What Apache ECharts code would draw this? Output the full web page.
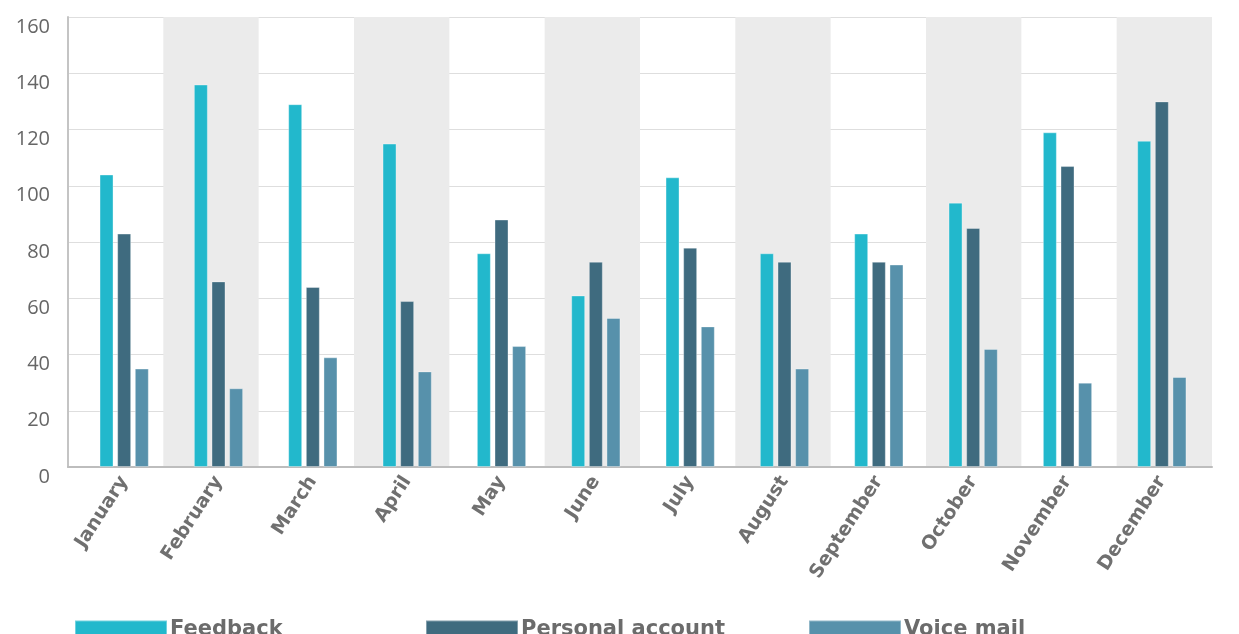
<!DOCTYPE html>
<html>
<head>
<meta charset="utf-8">
<script src="https://cdn.jsdelivr.net/npm/echarts@6/dist/echarts.min.js"></script>
<style>
  html, body { margin: 0; padding: 0; background: #fff; }
  #chart { width: 1239px; height: 634px; }
</style>
</head>
<body>
<div id="chart"></div>
<script>
  // data
  var months = ['January', 'February', 'March', 'April', 'May', 'June',
                'July', 'August', 'September', 'October', 'November', 'December'];
  var feedback = [104, 136, 129, 115, 76, 61, 103, 76, 83, 94, 119, 116];
  var personalAccount = [83, 66, 64, 59, 88, 73, 78, 73, 73, 85, 107, 130];
  var voiceMail = [35, 28, 39, 34, 43, 53, 50, 35, 72, 42, 30, 32];
  var seriesNames = ['Feedback', 'Personal account', 'Voice mail'];
  var colors = ['#22b8cc', '#3f6b7f', '#5791ab'];

  var chart = echarts.init(document.getElementById('chart'));

  var legendText = {
    fontFamily: 'DejaVu Sans',
    fontWeight: 'bold',
    fontSize: 21,
    color: '#6b6b6b',
    padding: [0, 0, 0, -2]
  };
  function makeLegend(name, left) {
    return {
      data: [name],
      left: left,
      top: 619,
      padding: 0,
      itemWidth: 92,
      itemHeight: 18,
      itemGap: 0,
      icon: 'rect',
      textStyle: legendText
    };
  }

  function makeSeries(name, data, idx) {
    return {
      name: name,
      type: 'bar',
      xAxisIndex: 1,
      yAxisIndex: 1,
      data: data,
      barWidth: 14,
      barGap: '26%',
      itemStyle: {
        color: colors[idx],
        borderColor: 'rgba(255,255,255,0.35)',
        borderWidth: 1
      }
    };
  }

  var option = {
    animation: false,
    color: colors,
    // grid 0: shaded month bands + y axis; grid 1: the bars (slightly narrower, as in the source)
    grid: [
      { left: 68, right: 27, top: 17, bottom: 167 },
      { left: 77, right: 30, top: 17, bottom: 167 }
    ],
    legend: [
      makeLegend(seriesNames[0], 74),
      makeLegend(seriesNames[1], 425),
      makeLegend(seriesNames[2], 808)
    ],
    xAxis: [
      {
        type: 'category',
        gridIndex: 0,
        data: months,
        axisLine: { show: true, lineStyle: { color: '#bdbdbd', width: 2 } },
        axisTick: { show: false },
        axisLabel: { show: false },
        splitArea: { show: true, areaStyle: { color: ['rgba(0,0,0,0)', '#ebebeb'] } }
      },
      {
        type: 'category',
        gridIndex: 1,
        data: months,
        axisLine: { show: false },
        axisTick: { show: false },
        axisLabel: {
          rotate: 57,
          margin: 11,
          interval: 0,
          fontFamily: 'DejaVu Sans',
          fontWeight: 'bold',
          fontSize: 19,
          color: '#707070'
        }
      }
    ],
    yAxis: [
      {
        type: 'value',
        gridIndex: 0,
        min: 0,
        max: 160,
        interval: 20,
        axisLine: { show: true, lineStyle: { color: '#c4c4c4', width: 2 } },
        axisTick: { show: false },
        splitLine: { lineStyle: { color: '#dedede', width: 1 } },
        axisLabel: {
          margin: 18,
          verticalAlign: 'top',
          fontFamily: 'Open Sans',
          fontSize: 20,
          color: '#666'
        }
      },
      {
        type: 'value',
        gridIndex: 1,
        min: 0,
        max: 160,
        interval: 20,
        show: false,
        splitLine: { show: false }
      }
    ],
    series: [
      makeSeries(seriesNames[0], feedback, 0),
      makeSeries(seriesNames[1], personalAccount, 1),
      makeSeries(seriesNames[2], voiceMail, 2)
    ]
  };

  chart.setOption(option);
</script>
</body>
</html>
